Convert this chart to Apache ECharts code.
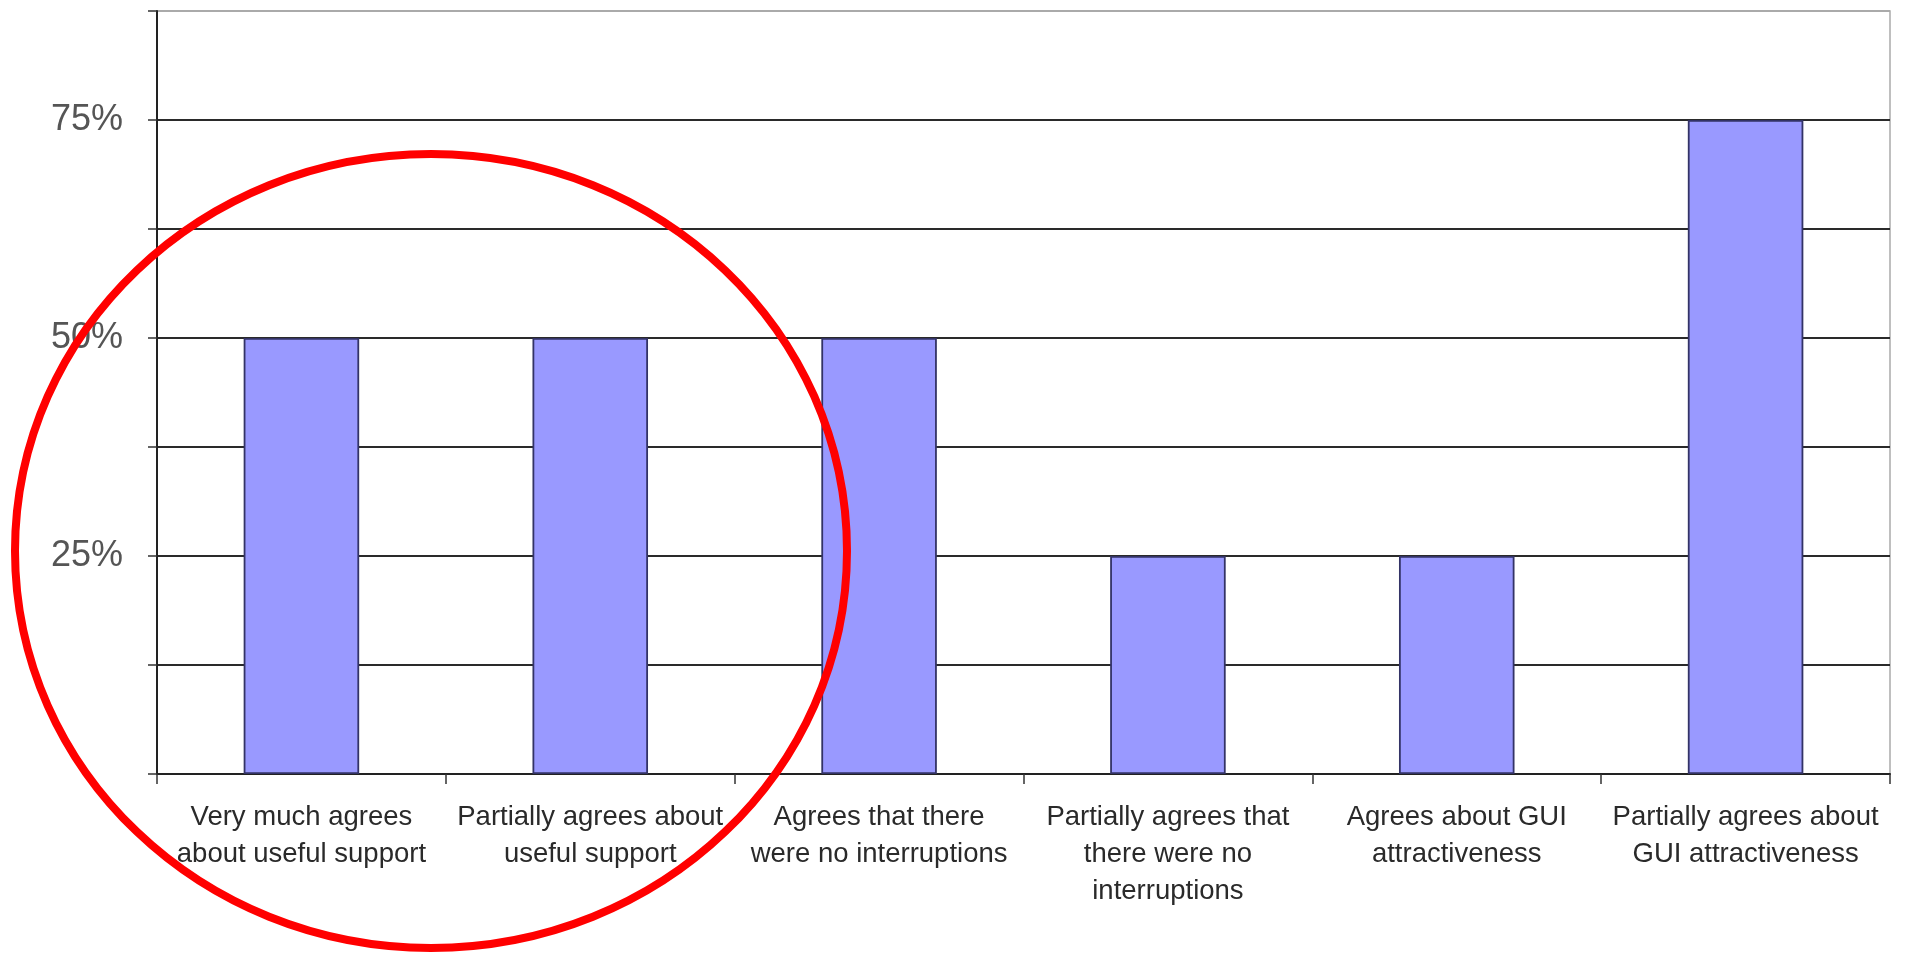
<!DOCTYPE html>
<html>
<head>
<meta charset="utf-8">
<style>
html,body{margin:0;padding:0;background:#fff;}
#chart{width:1912px;height:957px;}
</style>
<script src="https://cdn.jsdelivr.net/npm/echarts@6/dist/echarts.min.js"></script>
</head>
<body>
<div id="chart"></div>
<script>
var categories = [
  "Very much agrees\nabout useful support",
  "Partially agrees about\nuseful support",
  "Agrees that there\nwere no interruptions",
  "Partially agrees that\nthere were no\ninterruptions",
  "Agrees about GUI\nattractiveness",
  "Partially agrees about\nGUI attractiveness"
];
var values = [50, 50, 50, 25, 25, 75];
var yTickLabels = {25: "25%", 50: "50%", 75: "75%"};

var chart = echarts.init(document.getElementById('chart'));
chart.setOption({
  backgroundColor: '#ffffff',
  animation: false,
  grid: {
    left: 157, right: 22, top: 11, bottom: 183,
    show: true, borderColor: '#aaaaaa', borderWidth: 1.5, backgroundColor: '#ffffff'
  },
  xAxis: {
    type: 'category',
    data: categories,
    axisLine: {lineStyle: {color: '#222', width: 2}},
    axisTick: {show: true, length: 10, lineStyle: {color: '#333', width: 1.5}},
    axisLabel: {
      interval: 0, margin: 25,
      fontFamily: '"Liberation Sans", Arial, sans-serif',
      fontSize: 27.5, lineHeight: 37, color: '#2a2a2a'
    },
    splitLine: {show: false}
  },
  yAxis: {
    type: 'value', min: 0, max: 87.5, interval: 12.5,
    axisLine: {show: true, lineStyle: {color: '#222', width: 2}},
    axisTick: {show: true, length: 9, lineStyle: {color: '#333', width: 1.5}},
    axisLabel: {
      margin: 34,
      fontFamily: '"Liberation Sans", Arial, sans-serif',
      fontSize: 36, color: '#555',
      formatter: function (v) { return yTickLabels[v] || ''; }
    },
    splitLine: {show: true, lineStyle: {color: ['#2a2a2a','#2a2a2a','#2a2a2a','#2a2a2a','#2a2a2a','#2a2a2a','#2a2a2a','#aaa'], width: 1.8}}
  },
  series: [{
    type: 'bar',
    data: values,
    barWidth: '40%',
    itemStyle: {color: '#9999ff', borderColor: '#333366', borderWidth: 1.8}
  }],
  graphic: [{
    type: 'ellipse',
    shape: {cx: 431, cy: 551, rx: 416, ry: 397},
    style: {fill: 'none', stroke: '#ff0000', lineWidth: 8},
    z: 100
  }]
});
</script>
</body>
</html>
